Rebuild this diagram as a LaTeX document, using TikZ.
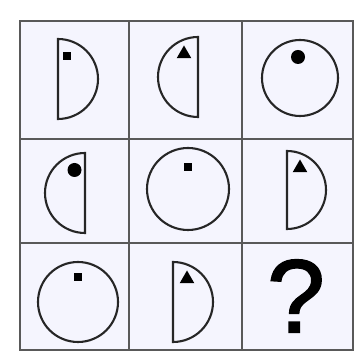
\documentclass[tikz,border=0pt]{standalone}
\usepackage{fontspec}
\setmainfont{Liberation Sans}
\newfontfamily\qmarkfont[FakeBold=1.6]{Liberation Sans}
\usetikzlibrary{shapes.geometric}

\begin{document}
\begin{tikzpicture}[
  x=1pt, y=1pt,
  cellbg/.style={fill=gray!12!blue!4!white},
  gridline/.style={draw=black!65, line width=1.3pt},
  figure/.style={draw=black!85, line width=2.1pt},
  sq/.style={rectangle, fill=black, inner sep=0pt, minimum size=8.5pt},
  tri/.style={regular polygon, regular polygon sides=3, fill=black, inner sep=0pt, minimum size=17pt},
  dot/.style={circle, fill=black, inner sep=0pt, minimum size=14pt}
]
\useasboundingbox (0,0) rectangle (361,358);
% grid
\fill[cellbg] (20,8) rectangle (353,337);
\draw[gridline] (20,8) rectangle (353,337);
\draw[gridline] (129,8) -- (129,337);
\draw[gridline] (242,8) -- (242,337);
\draw[gridline] (20,219) -- (353,219);
\draw[gridline] (20,115) -- (353,115);
% first row
\draw[figure] (58,319) arc[start angle=90, end angle=-90, radius=40] -- cycle;
\node[sq] (a) at (67,302) {};
\draw[figure] (198,321) arc[start angle=90, end angle=270, radius=40] -- cycle;
\node[tri] (b) at (184,304) {};
\draw[figure] (300,280) circle[radius=38];
\node[dot] (c) at (298,301) {};
% second row
\draw[figure] (85,205) arc[start angle=90, end angle=270, radius=40] -- cycle;
\node[dot] (d) at (74.5,188) {};
\draw[figure] (188,169) circle[radius=41];
\node[sq] (e) at (188,191) {};
\draw[figure] (287,207) arc[start angle=90, end angle=-90, radius=39] -- cycle;
\node[tri] (f) at (300,190) {};
% third row
\draw[figure] (78,56) circle[radius=40];
\node[sq] (g) at (78,81) {};
\draw[figure] (173,96) arc[start angle=90, end angle=-90, radius=40] -- cycle;
\node[tri] (h) at (187,79) {};
\node[font=\qmarkfont\fontsize{104}{104}\selectfont, inner sep=0pt] (q) at (296,62) {?};
\end{tikzpicture}
\end{document}
